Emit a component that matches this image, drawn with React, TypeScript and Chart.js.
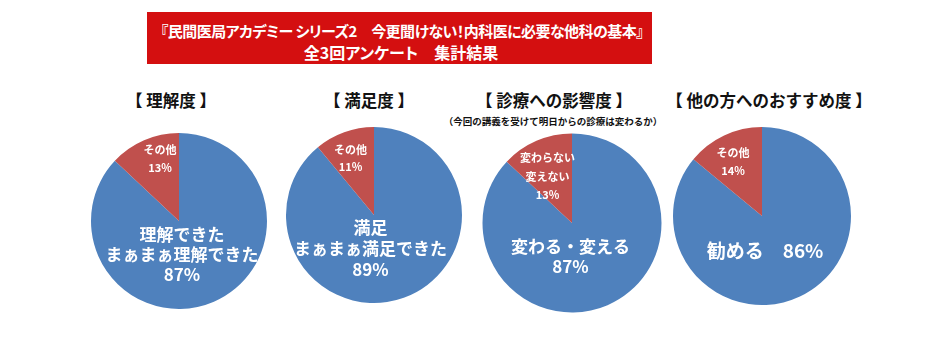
import React, { useEffect, useRef } from 'react';
import { Chart, registerables } from 'chart.js';

Chart.register(...registerables);

const FONT = '"Noto Sans CJK JP", "Noto Sans", sans-serif';

// ---------- text ----------
const headerLine1 = '『民間医局アカデミー シリーズ2　今更聞けない！内科医に必要な他科の基本』';
const headerLine2 = '全3回アンケート　集計結果';

const chartTitles = ['【 理解度 】', '【 満足度 】', '【 診療への影響度 】', '【 他の方へのおすすめ度 】'];
const impactSubtitle = '（今回の講義を受けて明日からの診療は変わるか）';

// ---------- data ----------
const understandingCategories = ['理解できた・まぁまぁ理解できた', 'その他'];
const understandingValues = [87, 13];
const understandingLabelLines = [['理解できた', 'まぁまぁ理解できた'], ['その他']];

const satisfactionCategories = ['満足・まぁまぁ満足できた', 'その他'];
const satisfactionValues = [89, 11];
const satisfactionLabelLines = [['満足', 'まぁまぁ満足できた'], ['その他']];

const impactCategories = ['変わる・変える', '変わらない・変えない'];
const impactValues = [87, 13];
const impactLabelLines = [['変わる・変える'], ['変わらない', '変えない']];

const recommendCategories = ['勧める', 'その他'];
const recommendValues = [86, 14];
const recommendLabelLines = [['勧める'], ['その他']];

const sliceColors = ['#4F81BD', '#C0504D'];

// ---------- layout (positions / styles) ----------
type LabelStyle = { fx: number; fy: number; size: number; lh: number; inline?: boolean };
type PieLayout = {
  cx: number; cy: number; r: number;
  titleX: number;
  labels: [LabelStyle, LabelStyle];
};

const CANVAS = 200;

const pieLayouts: PieLayout[] = [
  {
    cx: 179, cy: 221, r: 88, titleX: 171,
    labels: [
      { fx: 0.034, fy: 0.38, size: 17, lh: 20 },
      { fx: -0.216, fy: -0.71, size: 11, lh: 18 },
    ],
  },
  {
    cx: 374, cy: 215, r: 88, titleX: 369,
    labels: [
      { fx: -0.04, fy: 0.386, size: 17, lh: 21 },
      { fx: -0.267, fy: -0.642, size: 11, lh: 17 },
    ],
  },
  {
    cx: 572, cy: 223, r: 89.5, titleX: 554,
    labels: [
      { fx: -0.017, fy: 0.374, size: 17, lh: 20 },
      { fx: -0.274, fy: -0.52, size: 11, lh: 18.5 },
    ],
  },
  {
    cx: 762, cy: 216, r: 89, titleX: 769,
    labels: [
      { fx: 0.034, fy: 0.388, size: 19, lh: 20, inline: true },
      { fx: -0.326, fy: -0.612, size: 11, lh: 18 },
    ],
  },
];

const pieData = [
  { categories: understandingCategories, values: understandingValues, lines: understandingLabelLines },
  { categories: satisfactionCategories, values: satisfactionValues, lines: satisfactionLabelLines },
  { categories: impactCategories, values: impactValues, lines: impactLabelLines },
  { categories: recommendCategories, values: recommendValues, lines: recommendLabelLines },
];

function makeLabelPlugin(lines: string[][], values: number[], styles: LabelStyle[]) {
  return {
    id: 'sliceLabels',
    afterDatasetsDraw(chart: any) {
      const meta = chart.getDatasetMeta(0);
      const ctx: CanvasRenderingContext2D = chart.ctx;
      styles.forEach((st, i) => {
        const arc = meta.data[i];
        if (!arc) return;
        const p = arc.getProps(['x', 'y', 'outerRadius'], true);
        const x = p.x + st.fx * p.outerRadius;
        const y = p.y + st.fy * p.outerRadius;
        const pct = `${values[i]}%`;
        const rows = st.inline
          ? [...lines[i].slice(0, -1), `${lines[i][lines[i].length - 1]}　${pct}`]
          : [...lines[i], pct];
        ctx.save();
        ctx.fillStyle = '#ffffff';
        ctx.textAlign = 'center';
        ctx.textBaseline = 'middle';
        ctx.font = `bold ${st.size}px ${FONT}`;
        const n = rows.length;
        rows.forEach((row, k) => {
          ctx.fillText(row, x, y + (k - (n - 1) / 2) * st.lh);
        });
        ctx.restore();
      });
    },
  };
}

function PieChart({ index }: { index: number }) {
  const ref = useRef<HTMLCanvasElement>(null);
  const layout = pieLayouts[index];
  const d = pieData[index];
  useEffect(() => {
    if (!ref.current) return;
    const pad = CANVAS / 2 - layout.r;
    const chart = new Chart(ref.current, {
      type: 'pie',
      data: {
        labels: d.categories,
        datasets: [
          {
            data: d.values,
            backgroundColor: sliceColors,
            borderWidth: 0,
          },
        ],
      },
      options: {
        responsive: false,
        animation: false,
        devicePixelRatio: 1,
        layout: { padding: pad },
        plugins: {
          legend: { display: false },
          tooltip: { enabled: false },
          title: { display: false },
        },
        events: [],
      },
      plugins: [makeLabelPlugin(d.lines, d.values, layout.labels) as any],
    });
    return () => chart.destroy();
  }, []);
  return (
    <canvas
      ref={ref}
      width={CANVAS}
      height={CANVAS}
      style={{
        position: 'absolute',
        left: layout.cx - CANVAS / 2,
        top: layout.cy - CANVAS / 2,
        width: CANVAS,
        height: CANVAS,
      }}
    />
  );
}

export default function App() {
  const titleStyle = (x: number, y: number, size: number): React.CSSProperties => ({
    position: 'absolute',
    left: x,
    top: y,
    transform: 'translate(-50%, -50%)',
    whiteSpace: 'nowrap',
    fontFamily: FONT,
    fontWeight: 700,
    fontSize: size,
    lineHeight: 1,
    color: '#111',
  });
  return (
    <div
      style={{
        position: 'absolute',
        left: 0,
        top: 0,
        width: 940,
        height: 354,
        background: '#ffffff',
        overflow: 'hidden',
        fontFamily: FONT,
      }}
    >
      <div
        style={{
          position: 'absolute',
          left: 147,
          top: 12,
          width: 505,
          height: 52,
          background: '#D40F10',
        }}
      />
      <div
        style={{
          ...titleStyle(402, 30, 15),
          color: '#fff',
          fontFeatureSettings: '"palt"',
          letterSpacing: -0.55,
        }}
      >
        {headerLine1}
      </div>
      <div
        style={{
          ...titleStyle(401, 52, 16),
          color: '#fff',
          fontFeatureSettings: '"palt"',
        }}
      >
        {headerLine2}
      </div>
      {chartTitles.map((t, i) => (
        <div key={t} style={titleStyle(pieLayouts[i].titleX, 100, 16.5)}>
          {t}
        </div>
      ))}
      <div style={titleStyle(553, 122, 9.5)}>{impactSubtitle}</div>
      {pieLayouts.map((_, i) => (
        <PieChart key={i} index={i} />
      ))}
    </div>
  );
}
